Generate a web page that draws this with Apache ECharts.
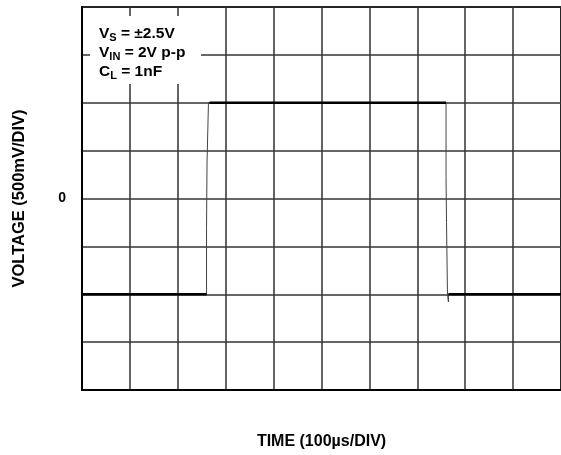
<!DOCTYPE html>
<html>
<head>
<meta charset="utf-8">
<script src="https://cdn.jsdelivr.net/npm/echarts@6/dist/echarts.min.js"></script>
<style>
  html, body { margin: 0; padding: 0; background: #fff; }
  #chart { width: 561px; height: 455px; }
</style>
</head>
<body>
<div id="chart"></div>
<script>
// time in us (100us/div), voltage in V (500mV/div)
const traceTime = [0, 260, 260, 261, 261, 264, 264, 760, 760, 761, 761, 763, 763, 765, 765, 765, 1000];
const traceVolt = [-1, -1, -0.3, -0.3, 0.37, 0.37, 1.0, 1.0, 0.23, 0.23, -0.25, -0.25, -1, -1, -1.08, -1, -1];

// the flat parts are drawn heavier, like on the scope photo
const flatTime = [0, 260, 262, 266, 760, 762, 765, 1000];
const flatVolt = [-1, -1, '-', 1, 1, '-', -1, -1];

const noteLines = [
  ['V', 'S', ' = ±2.5V'],
  ['V', 'IN', ' = 2V p-p'],
  ['C', 'L', ' = 1nF']
];

const FONT = '"Liberation Sans", Arial, Helvetica, sans-serif';

const chart = echarts.init(document.getElementById('chart'));

const toPairs = (xs, ys) => xs.map((x, i) => [ys[i] === '-' ? '-' : x, ys[i]]);

const noteText = noteLines.map(l => `{m|${l[0]}}{s|${l[1]}}{m|${l[2]}}`).join('\n');

const option = {
  animation: false,
  backgroundColor: '#fff',
  grid: { left: 82, top: 7, width: 480, height: 384, show: true, borderColor: '#000', borderWidth: 2 },
  xAxis: {
    type: 'value', min: 0, max: 1000, interval: 100,
    name: 'TIME (100µs/DIV)', nameLocation: 'middle', nameGap: 44,
    nameTextStyle: { fontFamily: FONT, fontWeight: 'bold', fontSize: 16, color: '#000' },
    axisLine: { show: true, onZero: false, lineStyle: { color: '#000', width: 2 } },
    axisTick: { show: false },
    axisLabel: { show: false },
    splitLine: { show: true, lineStyle: { color: '#333', width: 1.5 } }
  },
  yAxis: {
    type: 'value', min: -2, max: 2, interval: 0.5,
    name: 'VOLTAGE (500mV/DIV)', nameLocation: 'middle', nameGap: 54,
    nameTextStyle: { fontFamily: FONT, fontWeight: 'bold', fontSize: 16.5, color: '#000' },
    axisLine: { show: true, onZero: false, lineStyle: { color: '#000', width: 2 } },
    axisTick: { show: false },
    axisLabel: {
      margin: 16, fontFamily: FONT, fontWeight: 'bold', fontSize: 14, color: '#000',
      formatter: v => (v === 0 ? '0' : '')
    },
    splitLine: { show: true, lineStyle: { color: '#333', width: 1.5 } }
  },
  series: [
    {
      type: 'line', data: toPairs(traceTime, traceVolt), symbol: 'none',
      lineStyle: { color: '#444', width: 1 }, z: 3
    },
    {
      type: 'line', data: toPairs(flatTime, flatVolt), symbol: 'none', connectNulls: false,
      lineStyle: { color: '#000', width: 2.5 }, z: 4
    }
  ],
  graphic: [
    { type: 'rect', z: 100, shape: { x: 90, y: 16, width: 111, height: 68 }, style: { fill: '#fff' } },
    {
      type: 'text', z: 101, x: 99, y: 24,
      style: {
        text: noteText,
        rich: {
          m: { fontFamily: FONT, fontWeight: 'bold', fontSize: 15.5, lineHeight: 19, fill: '#000' },
          s: { fontFamily: FONT, fontWeight: 'bold', fontSize: 11, verticalAlign: 'bottom', fill: '#000' }
        }
      }
    }
  ]
};

chart.setOption(option);
</script>
</body>
</html>
